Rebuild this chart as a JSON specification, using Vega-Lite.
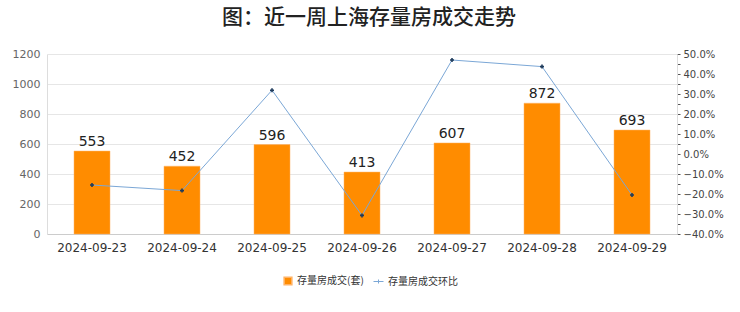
{
  "$schema": "https://vega.github.io/schema/vega-lite/v6.json",
  "autosize": "none",
  "width": 630,
  "height": 180,
  "padding": {"left": 47, "top": 54, "right": 63, "bottom": 78},
  "background": "#ffffff",
  "title": {
    "text": "图：近一周上海存量房成交走势",
    "font": "Noto Sans CJK SC",
    "fontSize": 21,
    "fontWeight": 500,
    "color": "#222222",
    "anchor": "middle",
    "frame": "group",
    "dx": 7,
    "offset": 20
  },
  "config": {
    "view": {"stroke": null},
    "font": "Noto Sans CJK SC"
  },
  "data": {
    "values": [
      {"date": "2024-09-23", "count": 553, "pct": -0.155},
      {"date": "2024-09-24", "count": 452, "pct": -0.183},
      {"date": "2024-09-25", "count": 596, "pct": 0.319},
      {"date": "2024-09-26", "count": 413, "pct": -0.307},
      {"date": "2024-09-27", "count": 607, "pct": 0.470},
      {"date": "2024-09-28", "count": 872, "pct": 0.437},
      {"date": "2024-09-29", "count": 693, "pct": -0.205}
    ]
  },
  "encoding": {
    "x": {
      "field": "date",
      "type": "nominal",
      "scale": {"paddingInner": 0.6, "paddingOuter": 0.3},
      "axis": {
        "title": null,
        "labelAngle": 0,
        "ticks": false,
        "domainColor": "#cccccc",
        "labelColor": "#333333",
        "labelFontSize": 12,
        "labelFont": "DejaVu Sans",
        "labelPadding": 8
      }
    }
  },
  "layer": [
    {
      "encoding": {
        "y": {
          "field": "count",
          "type": "quantitative",
          "scale": {"domain": [0, 1200], "nice": false},
          "axis": {
            "title": null,
            "values": [0, 200, 400, 600, 800, 1000, 1200],
            "format": "d",
            "labelOverlap": false,
            "grid": true,
            "gridColor": "#e6e6e6",
            "domainColor": "#dddddd",
            "ticks": false,
            "labelColor": "#666666",
            "labelFontSize": 11,
            "labelFont": "DejaVu Sans",
            "labelPadding": 7
          }
        }
      },
      "layer": [
        {
          "mark": {"type": "bar", "stroke": "#ffb366", "strokeWidth": 0.5},
          "encoding": {
            "fill": {
              "datum": "存量房成交(套)",
              "type": "nominal",
              "scale": {"domain": ["存量房成交(套)"], "range": ["#ff8c00"]},
              "legend": {
                "title": null,
                "orient": "none",
                "legendX": 236,
                "legendY": 222,
                "symbolType": "square",
                "symbolSize": 60,
                "labelFontSize": 10,
                "labelColor": "#333333"
              }
            }
          }
        },
        {
          "mark": {"type": "text", "dy": -9, "fontSize": 14, "color": "#222222", "font": "DejaVu Sans"},
          "encoding": {
            "text": {"field": "count", "type": "quantitative"}
          }
        }
      ]
    },
    {
      "encoding": {
        "y": {
          "field": "pct",
          "type": "quantitative",
          "scale": {"domain": [-0.4, 0.5], "nice": false},
          "axis": {
            "title": null,
            "orient": "right",
            "grid": false,
            "values": [-0.4, -0.35, -0.3, -0.25, -0.2, -0.15, -0.1, -0.05, 0, 0.05, 0.1, 0.15, 0.2, 0.25, 0.3, 0.35, 0.4, 0.45, 0.5],
            "labelExpr": "abs(round(datum.value*100)) % 10 == 0 ? format(datum.value, '.1%') : ''",
            "labelOverlap": false,
            "domainColor": "#dddddd",
            "tickColor": "#555555",
            "tickSize": 3,
            "labelColor": "#444444",
            "labelFontSize": 10,
            "labelFont": "DejaVu Sans",
            "labelPadding": 3
          }
        }
      },
      "layer": [
        {
          "mark": {"type": "line", "strokeWidth": 1},
          "encoding": {
            "stroke": {
              "datum": "存量房成交环比",
              "type": "nominal",
              "scale": {"domain": ["存量房成交环比"], "range": ["#7ba7d6"]},
              "legend": {
                "title": null,
                "orient": "none",
                "legendX": 326,
                "legendY": 222,
                "symbolType": "M-1,0H1M0,-0.4V0.4",
                "symbolStrokeColor": "#3b6ea8",
                "symbolSize": 100,
                "symbolStrokeWidth": 1,
                "labelFontSize": 10,
                "labelColor": "#333333"
              }
            }
          }
        },
        {
          "mark": {"type": "point", "shape": "cross", "size": 16, "filled": true, "color": "#1f3b5c", "opacity": 1}
        }
      ]
    }
  ],
  "resolve": {"scale": {"y": "independent"}}
}
